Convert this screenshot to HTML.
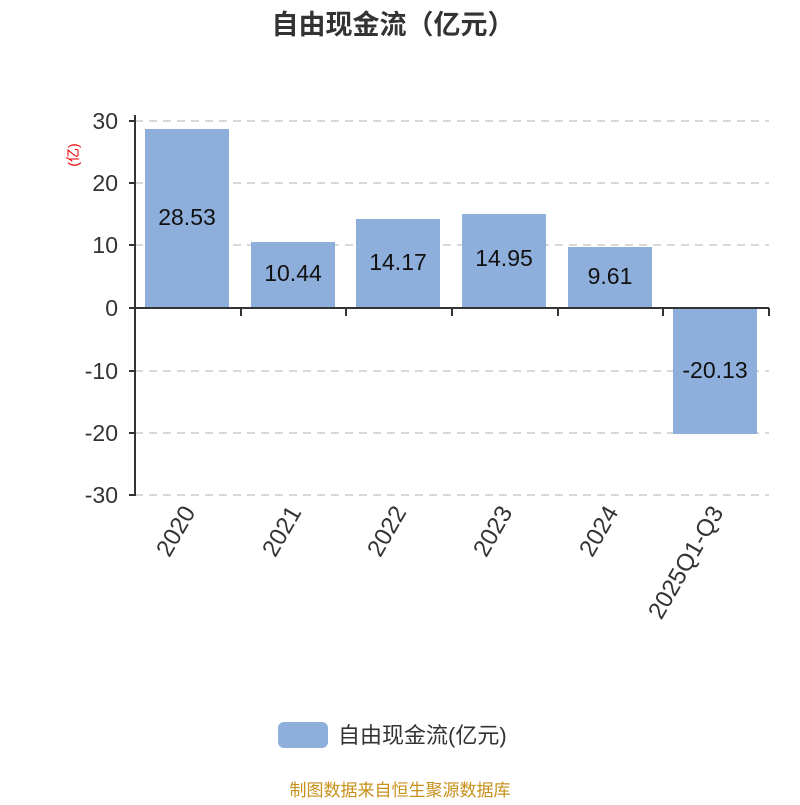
<!DOCTYPE html>
<html><head><meta charset="utf-8"><style>body{margin:0;background:#fff}</style></head><body>
<svg width="800" height="800" xmlns="http://www.w3.org/2000/svg" font-family="'Liberation Sans','Noto Sans CJK SC',sans-serif">
<text x="393" y="34" text-anchor="middle" font-size="27" font-weight="bold" fill="#333">自由现金流（亿元）</text>
<text transform="translate(78,155) rotate(-90)" text-anchor="middle" font-size="14" fill="#e00">(亿)</text>
<g stroke="#ccc" stroke-width="1.5" stroke-dasharray="8,6">
<line x1="135" y1="121" x2="769" y2="121"/><line x1="135" y1="183" x2="769" y2="183"/><line x1="135" y1="245" x2="769" y2="245"/>
<line x1="135" y1="371" x2="769" y2="371"/><line x1="135" y1="433" x2="769" y2="433"/><line x1="135" y1="495" x2="769" y2="495"/>
</g>
<g fill="#8eaedb">
<rect x="145" y="129" width="84" height="179"/>
<rect x="251" y="242" width="84" height="66"/>
<rect x="356" y="219" width="84" height="89"/>
<rect x="462" y="214" width="84" height="94"/>
<rect x="568" y="247" width="84" height="61"/>
<rect x="673" y="308" width="84" height="126"/>
</g>
<g stroke="#333" stroke-width="2" fill="none">
<line x1="135" y1="115" x2="135" y2="496"/>
<line x1="129" y1="121" x2="135" y2="121"/><line x1="129" y1="183" x2="135" y2="183"/><line x1="129" y1="245" x2="135" y2="245"/><line x1="129" y1="308" x2="135" y2="308"/><line x1="129" y1="371" x2="135" y2="371"/><line x1="129" y1="433" x2="135" y2="433"/><line x1="129" y1="495" x2="135" y2="495"/>
<line x1="135" y1="308" x2="769" y2="308"/>
<line x1="135" y1="308" x2="135" y2="316"/><line x1="241" y1="308" x2="241" y2="316"/><line x1="346" y1="308" x2="346" y2="316"/><line x1="452" y1="308" x2="452" y2="316"/><line x1="558" y1="308" x2="558" y2="316"/><line x1="663" y1="308" x2="663" y2="316"/><line x1="769" y1="308" x2="769" y2="316"/>
</g>
<g font-size="23" fill="#333" text-anchor="end">
<text x="118" y="129">30</text><text x="118" y="191">20</text><text x="118" y="253">10</text><text x="118" y="316">0</text>
<text x="118" y="379">-10</text><text x="118" y="441">-20</text><text x="118" y="503">-30</text>
</g>
<g font-size="23" fill="#111" text-anchor="middle">
<text x="187" y="225">28.53</text><text x="293" y="281">10.44</text><text x="398" y="270">14.17</text>
<text x="504" y="266">14.95</text><text x="610" y="284">9.61</text><text x="715" y="378">-20.13</text>
</g>
<g font-size="24" fill="#333" text-anchor="end">
<text transform="translate(196,512) rotate(-60)">2020</text>
<text transform="translate(302,512) rotate(-60)">2021</text>
<text transform="translate(407,512) rotate(-60)">2022</text>
<text transform="translate(513,512) rotate(-60)">2023</text>
<text transform="translate(619,512) rotate(-60)">2024</text>
<text transform="translate(724,512) rotate(-60)">2025Q1-Q3</text>
</g>
<rect x="278" y="722" width="50" height="26" rx="6" fill="#8eaedb"/>
<text x="338" y="743" font-size="22" fill="#333">自由现金流(亿元)</text>
<text x="400" y="796" text-anchor="middle" font-size="17" fill="#c8901a">制图数据来自恒生聚源数据库</text>
</svg>
</body></html>
